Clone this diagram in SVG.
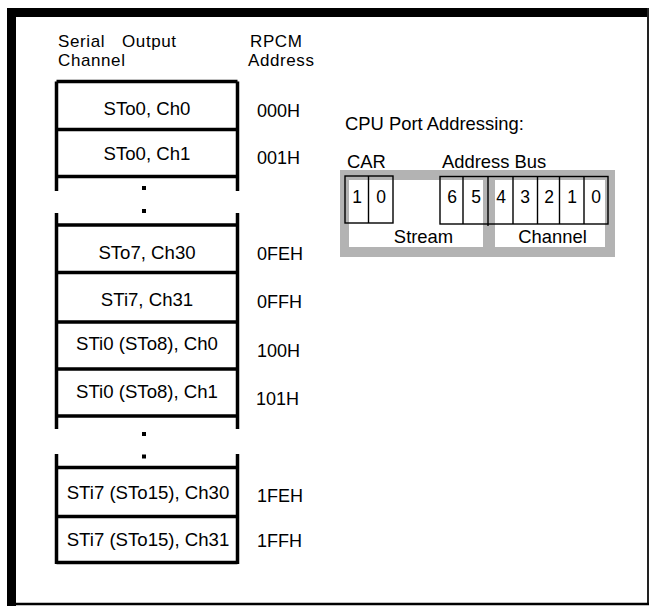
<svg xmlns="http://www.w3.org/2000/svg" width="650" height="606" viewBox="0 0 650 606">
<style>
text{font-family:"Liberation Sans",Arial,sans-serif;fill:#000}
.lbl{font-size:18.6px;text-anchor:middle}
.addr{font-size:18px}
.hdr{font-size:18.4px}
.hd2{font-size:17px;letter-spacing:0.6px}
.bit{font-size:17.5px;text-anchor:middle}
.tl{stroke:#000;stroke-width:3.5;fill:none}
.cell{stroke:#000;stroke-width:1.4;fill:none}
.dot{fill:#000}
</style>
<rect x="0" y="0" width="650" height="606" fill="#fff"/>
<g id="frame">
<rect x="7" y="8" width="642" height="9" fill="#000"/>
<rect x="7" y="8" width="9" height="598" fill="#000"/>
<line x1="648" y1="8" x2="648" y2="605" stroke="#222" stroke-width="2"/>
<line x1="7" y1="604" x2="649" y2="604" stroke="#000" stroke-width="2.5"/>
</g>
<g id="headers">
<text class="hd2" y="47"><tspan x="58">Serial</tspan><tspan x="122">Output</tspan></text>
<text class="hd2" x="58" y="66">Channel</text>
<text class="hd2" x="250" y="47">RPCM</text>
<text class="hd2" x="248" y="66">Address</text>
</g>
<g id="connectors">
<path class="tl" d="M56.5 81.5V191M237.5 81.5V191M56.5 213V429M237.5 213V429M56.5 454V564M237.5 454V564"/>
<path class="tl" d="M56.5 81.5H237.5M56.5 129.5H237.5M56.5 176.5H237.5M56.5 225H237.5M56.5 272.5H237.5M56.5 322H237.5M56.5 369H237.5M56.5 416H237.5M56.5 467.5H237.5M56.5 516.5H237.5M56.5 562.5H237.5"/>
<rect class="dot" x="142" y="186" width="4" height="4"/>
<rect class="dot" x="142" y="209" width="4" height="4"/>
<rect class="dot" x="142" y="432" width="4" height="4"/>
<rect class="dot" x="142" y="454.5" width="4" height="4"/>
</g>
<g id="row1"><text class="lbl" x="147" y="115">STo0, Ch0</text><text class="addr" x="257" y="117">000H</text></g>
<g id="row2"><text class="lbl" x="147" y="160">STo0, Ch1</text><text class="addr" x="257" y="164">001H</text></g>
<g id="row3"><text class="lbl" x="147" y="259">STo7, Ch30</text><text class="addr" x="257" y="260">0FEH</text></g>
<g id="row4"><text class="lbl" x="147" y="306">STi7, Ch31</text><text class="addr" x="257" y="308">0FFH</text></g>
<g id="row5"><text class="lbl" x="147" y="350">STi0 (STo8), Ch0</text><text class="addr" x="257" y="357">100H</text></g>
<g id="row6"><text class="lbl" x="147" y="398">STi0 (STo8), Ch1</text><text class="addr" x="256" y="405">101H</text></g>
<g id="row7"><text class="lbl" x="148" y="499">STi7 (STo15), Ch30</text><text class="addr" x="257" y="502">1FEH</text></g>
<g id="row8"><text class="lbl" x="148" y="546">STi7 (STo15), Ch31</text><text class="addr" x="257" y="547">1FFH</text></g>
<g id="cpu">
<text class="hdr" x="345" y="130">CPU Port Addressing:</text>
<text class="hdr" x="347" y="168">CAR</text>
<text class="hdr" x="442" y="168">Address Bus</text>
<rect x="340" y="170" width="275" height="87" fill="#b3b3b3"/>
<rect x="349" y="180" width="134" height="67" fill="#fff"/>
<rect x="495" y="180" width="110" height="67" fill="#fff"/>
<rect class="cell" x="345" y="176" width="48" height="47"/>
<line class="cell" x1="368.5" y1="176" x2="368.5" y2="223"/>
<rect class="cell" x="440" y="176.5" width="168" height="47.5"/>
<path class="cell" d="M463 176.5V224M488 176.5V226M513 176.5V224M537.5 176.5V224M559.5 176.5V224M584 176.5V224"/>
<text class="bit" x="357" y="203">1</text>
<text class="bit" x="381" y="203">0</text>
<text class="bit" x="452" y="203">6</text>
<text class="bit" x="476" y="203">5</text>
<text class="bit" x="501" y="203">4</text>
<text class="bit" x="525" y="203">3</text>
<text class="bit" x="549" y="203">2</text>
<text class="bit" x="572" y="203">1</text>
<text class="bit" x="596" y="203">0</text>
<text class="hdr" x="423.5" y="243" text-anchor="middle">Stream</text>
<text class="hdr" x="552.5" y="243" text-anchor="middle">Channel</text>
</g>
</svg>
